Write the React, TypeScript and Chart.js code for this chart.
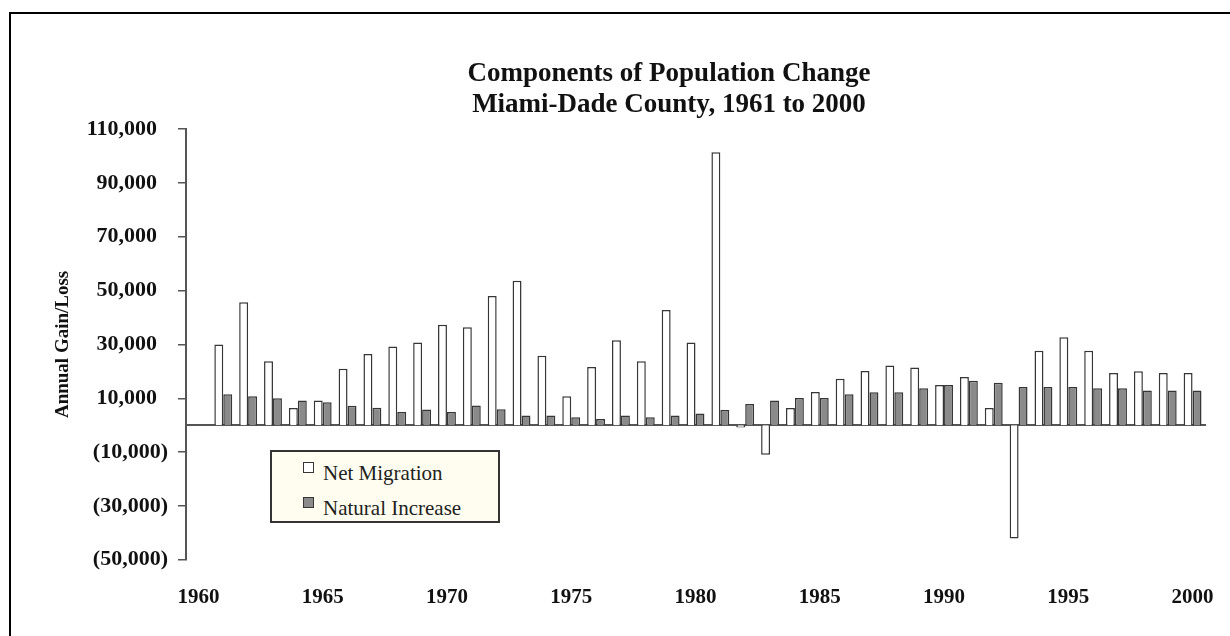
import React, { useEffect, useRef } from 'react';
import { Chart, registerables } from 'chart.js';

Chart.register(...registerables);

const titleLines = ['Components of Population Change', 'Miami-Dade County, 1961 to 2000'];
const yAxisTitle = 'Annual Gain/Loss';
const seriesNames = ['Net Migration', 'Natural Increase'];

const years = [
  '1960', '1961', '1962', '1963', '1964', '1965', '1966', '1967', '1968', '1969',
  '1970', '1971', '1972', '1973', '1974', '1975', '1976', '1977', '1978', '1979',
  '1980', '1981', '1982', '1983', '1984', '1985', '1986', '1987', '1988', '1989',
  '1990', '1991', '1992', '1993', '1994', '1995', '1996', '1997', '1998', '1999',
  '2000',
];

const xTickLabels = ['1960', '1965', '1970', '1975', '1980', '1985', '1990', '1995', '2000'];

const netMigration: (number | null)[] = [
  null, 30000, 45700, 23700, 6400, 9200, 21000, 26400, 29200, 30700,
  37300, 36400, 48000, 53600, 25800, 10700, 21600, 31500, 23700, 42800,
  30700, 101400, -900, -11000, 6400, 12300, 17200, 20100, 22200, 21400,
  14900, 17900, 6400, -42100, 27600, 32700, 27600, 19400, 20000, 19400,
  19400,
];

const naturalIncrease: (number | null)[] = [
  null, 11500, 10700, 10000, 9200, 8500, 7200, 6500, 4900, 5800,
  4900, 7300, 5900, 3600, 3600, 2900, 2300, 3600, 2900, 3600,
  4300, 5600, 7900, 9200, 10100, 10100, 11500, 12200, 12200, 13700,
  14900, 16500, 15800, 14200, 14200, 14200, 13700, 13700, 12900, 12900,
  12900,
];

const yMin = -50000;
const yMax = 110000;
const yStep = 20000;

const SERIF = '"Liberation Serif", "Times New Roman", Times, serif';
const seriesFill = ['#ffffff', '#8a8a8a'];
const seriesBorder = '#363636';

function formatTick(v: number): string {
  const s = Math.abs(v).toLocaleString('en-US');
  return v < 0 ? `(${s})` : `${s}\u2002`;
}

export default function App() {
  const canvasRef = useRef<HTMLCanvasElement | null>(null);

  useEffect(() => {
    const canvas = canvasRef.current;
    if (!canvas) return;
    const chart = new Chart(canvas, {
      type: 'bar',
      data: {
        labels: years,
        datasets: [
          {
            label: seriesNames[0],
            data: netMigration,
            backgroundColor: seriesFill[0],
            borderColor: seriesBorder,
            borderWidth: 1.5,
            borderSkipped: 'start',
            categoryPercentage: 0.72,
            barPercentage: 1,
            xAxisID: 'x',
            yAxisID: 'y',
          },
          {
            label: seriesNames[1],
            data: naturalIncrease,
            backgroundColor: seriesFill[1],
            borderColor: seriesBorder,
            borderWidth: 1.5,
            borderSkipped: 'start',
            categoryPercentage: 0.72,
            barPercentage: 1,
            xAxisID: 'x',
            yAxisID: 'y',
          },
        ],
      },
      options: {
        responsive: false,
        animation: false,
        events: [],
        layout: { padding: { left: 52, right: 25, top: 129, bottom: 1 } },
        plugins: {
          legend: { display: false },
          title: { display: false },
          tooltip: { enabled: false },
        },
        scales: {
          x: {
            type: 'category',
            axis: 'x',
            offset: true,
            position: { y: 0 } as any,
            grid: { display: false, drawTicks: false },
            ticks: { display: false },
            border: { display: true, color: '#555555', width: 2 },
          },
          xl: {
            type: 'category',
            axis: 'x',
            offset: true,
            position: 'bottom',
            grid: { display: false, drawTicks: false },
            border: { display: false },
            ticks: {
              autoSkip: false,
              maxRotation: 0,
              minRotation: 0,
              padding: 25,
              color: '#111111',
              font: { family: SERIF, size: 21, weight: 'bold' },
              callback: (_value: any, index: number) =>
                xTickLabels.includes(years[index]) ? years[index] : '',
            },
            afterFit: (scale: any) => {
              scale.paddingLeft = 0;
              scale.paddingRight = 0;
            },
          },
          y: {
            type: 'linear',
            position: 'left',
            min: yMin,
            max: yMax,
            ticks: {
              stepSize: yStep,
              padding: 10,
              color: '#111111',
              font: { family: SERIF, size: 22, weight: 'bold' },
              callback: (value: any) => formatTick(Number(value)),
            },
            grid: {
              drawOnChartArea: false,
              drawTicks: true,
              tickLength: 8,
              color: '#555555',
              lineWidth: 1.5,
            },
            border: { display: true, color: '#555555', width: 2 },
            title: {
              display: true,
              text: yAxisTitle,
              color: '#111111',
              font: { family: SERIF, size: 19, weight: 'bold' },
              padding: { top: 0, bottom: 0 },
            },
            afterFit: (scale: any) => {
              scale.width = 134;
            },
          },
        },
      },
    } as any);
    return () => chart.destroy();
  }, []);

  return (
    <div
      style={{
        position: 'absolute',
        left: 0,
        top: 0,
        width: 1230,
        height: 636,
        overflow: 'hidden',
        background: '#ffffff',
      }}
    >
      <div
        style={{
          position: 'absolute',
          left: 9,
          top: 12,
          width: 1221,
          height: 624,
          borderTop: '2px solid #000',
          borderLeft: '2px solid #000',
          boxSizing: 'border-box',
        }}
      />
      <canvas
        ref={canvasRef}
        width={1230}
        height={636}
        style={{ position: 'absolute', left: 0, top: 0 }}
      />
      <div
        style={{
          position: 'absolute',
          left: 369,
          top: 57,
          width: 600,
          textAlign: 'center',
          fontFamily: SERIF,
          fontWeight: 'bold',
          fontSize: 27,
          lineHeight: '31px',
          color: '#111',
          whiteSpace: 'nowrap',
        }}
      >
        {titleLines.map((t) => (
          <div key={t}>{t}</div>
        ))}
      </div>
      <div
        style={{
          position: 'absolute',
          left: 270,
          top: 450,
          width: 230,
          height: 73,
          boxSizing: 'border-box',
          border: '2px solid #333',
          background: '#fffdf0',
          fontFamily: SERIF,
          fontSize: 21,
          color: '#222',
        }}
      >
        {seriesNames.map((name, i) => (
          <div
            key={name}
            style={{
              position: 'absolute',
              left: 31,
              top: 9 + i * 35,
              display: 'flex',
              alignItems: 'flex-start',
              lineHeight: '25px',
              whiteSpace: 'nowrap',
            }}
          >
            <span
              style={{
                display: 'inline-block',
                width: 11,
                height: 11,
                boxSizing: 'border-box',
                border: '1.5px solid #363636',
                background: seriesFill[i],
                marginRight: 9,
                marginTop: 1,
              }}
            />
            <span>{name}</span>
          </div>
        ))}
      </div>
    </div>
  );
}
